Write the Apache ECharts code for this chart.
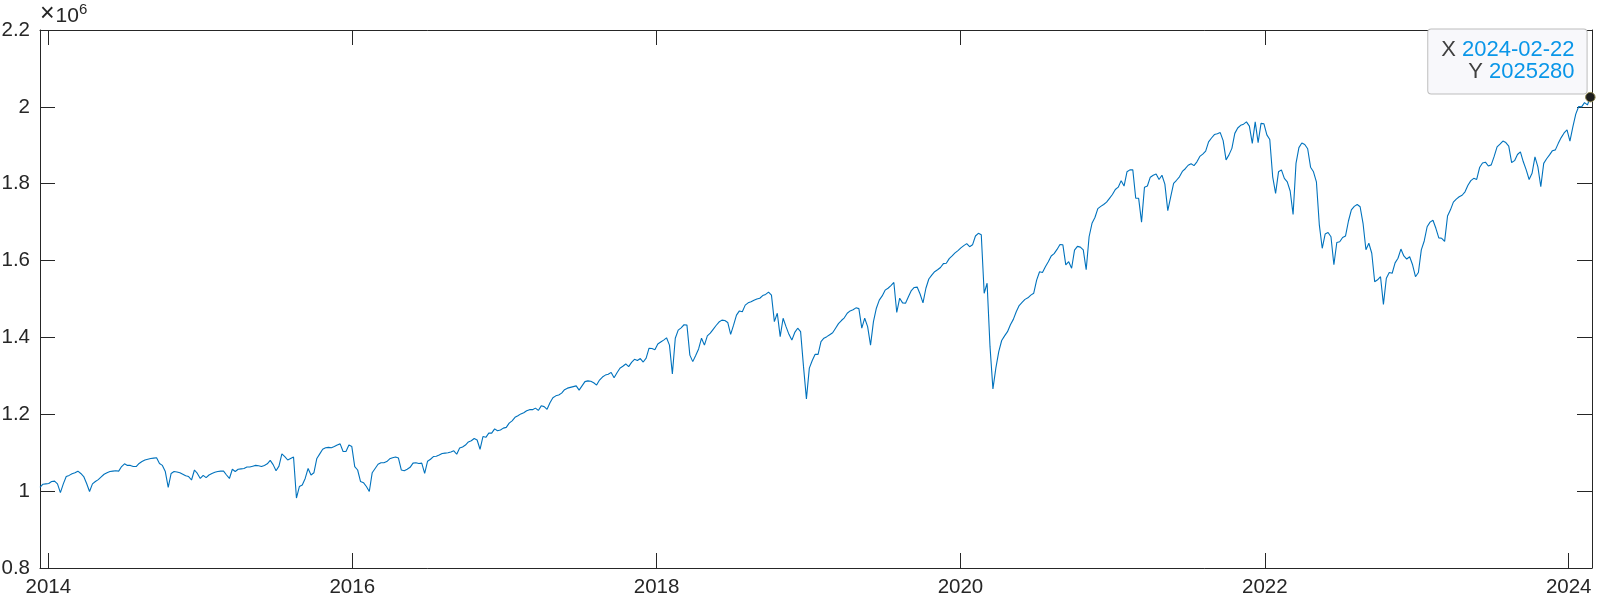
<!DOCTYPE html>
<html>
<head>
<meta charset="utf-8">
<script src="https://cdn.jsdelivr.net/npm/echarts@6/dist/echarts.min.js"></script>
<style>
html,body{margin:0;padding:0;background:#ffffff;}
#chart{width:1599px;height:597px;}
</style>
</head>
<body>
<div id="chart"></div>
<script>
// Weekly samples, first sample date (UTC) and step
const firstSample = '2013-12-12';
const stepDays = 7;

// Values in units of 1e6, period by period
const values2014 = [
  1.010, 1.018, 1.019, 1.020, 1.025, 1.026, 1.019, 0.996, 1.019, 1.038,
  1.041, 1.045, 1.048, 1.052, 1.046, 1.038, 1.020, 0.999, 1.019, 1.025,
  1.030, 1.037, 1.044, 1.048, 1.051, 1.052, 1.053, 1.052, 1.064, 1.071,
  1.067, 1.067, 1.064, 1.064, 1.072, 1.077, 1.081, 1.083, 1.085, 1.086,
  1.087, 1.072, 1.067, 1.051, 1.010, 1.046, 1.051, 1.050, 1.048, 1.044,
  1.040, 1.038, 1.029, 1.055, 1.046, 1.033, 1.041, 1.035, 1.042, 1.046,
  1.049, 1.051, 1.052, 1.052, 1.042, 1.033, 1.057, 1.051, 1.057
];
const values2015 = [
  1.058, 1.059, 1.063, 1.063, 1.065, 1.067, 1.066, 1.064, 1.067, 1.071,
  1.080, 1.069, 1.053, 1.065, 1.097, 1.090, 1.081, 1.085, 1.089, 0.982,
  1.012, 1.016, 1.033, 1.059, 1.042, 1.048, 1.085, 1.097, 1.109, 1.113,
  1.114, 1.113, 1.116, 1.120, 1.123, 1.103, 1.103, 1.120, 1.116, 1.064,
  1.055, 1.025, 1.022, 1.012, 0.999, 1.048, 1.059, 1.070, 1.074, 1.074,
  1.077, 1.084, 1.087, 1.089, 1.086, 1.055, 1.053, 1.057, 1.062, 1.073,
  1.074, 1.072, 1.073, 1.046, 1.078, 1.083, 1.090
];
const values2016 = [
  1.091, 1.094, 1.098, 1.099, 1.100, 1.102, 1.105, 1.096, 1.112, 1.115,
  1.120, 1.128, 1.131, 1.137, 1.133, 1.109, 1.142, 1.140, 1.151, 1.151,
  1.162, 1.157, 1.159, 1.164, 1.166, 1.177, 1.183, 1.192, 1.196, 1.201,
  1.204, 1.209, 1.212, 1.212, 1.216, 1.210, 1.222, 1.220, 1.213, 1.230,
  1.243, 1.248, 1.250, 1.255, 1.264, 1.268, 1.270, 1.272, 1.274, 1.263,
  1.274, 1.285, 1.287, 1.286, 1.282, 1.276, 1.289, 1.297, 1.302, 1.304,
  1.309, 1.295, 1.308, 1.320, 1.325, 1.331, 1.324, 1.335, 1.343
];
const values2018 = [
  1.340, 1.345, 1.336, 1.346, 1.372, 1.371, 1.368, 1.383, 1.388, 1.393,
  1.399, 1.380, 1.305, 1.398, 1.419, 1.425, 1.433, 1.432, 1.354, 1.337,
  1.353, 1.370, 1.398, 1.380, 1.404, 1.411, 1.421, 1.431, 1.440, 1.445,
  1.444, 1.439, 1.408, 1.432, 1.458, 1.469, 1.467, 1.484, 1.490, 1.493,
  1.497, 1.500, 1.502, 1.509, 1.512, 1.518, 1.510, 1.441, 1.463, 1.402,
  1.450, 1.428, 1.408, 1.393, 1.413, 1.424, 1.415, 1.324, 1.240, 1.320,
  1.340, 1.356, 1.356, 1.389, 1.398, 1.402, 1.407, 1.412, 1.424
];
const values2019 = [
  1.436, 1.444, 1.451, 1.463, 1.469, 1.472, 1.477, 1.475, 1.424, 1.450,
  1.428, 1.380, 1.441, 1.476, 1.497, 1.508, 1.523, 1.528, 1.535, 1.543,
  1.465, 1.502, 1.490, 1.489, 1.506, 1.522, 1.530, 1.531, 1.513, 1.490,
  1.528, 1.552, 1.562, 1.571, 1.576, 1.582, 1.592, 1.593, 1.605, 1.612,
  1.620, 1.626, 1.633, 1.639, 1.644, 1.636, 1.641, 1.664, 1.671, 1.667,
  1.515, 1.541, 1.376, 1.266, 1.320, 1.363, 1.392, 1.404, 1.415, 1.433,
  1.447, 1.467, 1.483, 1.491, 1.499, 1.503, 1.510, 1.515, 1.549
];
const values2020 = [
  1.571, 1.569, 1.584, 1.597, 1.612, 1.618, 1.629, 1.642, 1.641, 1.589,
  1.597, 1.580, 1.627, 1.637, 1.635, 1.628, 1.576, 1.662, 1.697, 1.712,
  1.735, 1.741, 1.746, 1.752, 1.762, 1.772, 1.785, 1.791, 1.808, 1.794,
  1.831, 1.836, 1.836, 1.762, 1.762, 1.700, 1.791, 1.794, 1.817, 1.822,
  1.825, 1.811, 1.822, 1.799, 1.730, 1.766, 1.801, 1.809, 1.818, 1.832,
  1.839, 1.848, 1.852, 1.847, 1.857, 1.871, 1.877, 1.885, 1.909, 1.919,
  1.928, 1.930, 1.933, 1.912, 1.862, 1.875, 1.892, 1.931
];
const values2021 = [
  1.945, 1.952, 1.955, 1.961, 1.950, 1.905, 1.961, 1.907, 1.957, 1.956,
  1.927, 1.915, 1.818, 1.775, 1.831, 1.836, 1.814, 1.805, 1.781, 1.720,
  1.853, 1.894, 1.906, 1.902, 1.891, 1.843, 1.831, 1.805, 1.693, 1.632,
  1.669, 1.673, 1.662, 1.589, 1.647, 1.649, 1.660, 1.664, 1.703, 1.732,
  1.741, 1.746, 1.740, 1.697, 1.628, 1.645, 1.619, 1.545, 1.550, 1.558,
  1.486, 1.554, 1.569, 1.567, 1.594, 1.606, 1.630, 1.612, 1.604, 1.610,
  1.589, 1.558, 1.569, 1.628, 1.651, 1.688, 1.700, 1.705, 1.684
];
const values2023 = [
  1.659, 1.658, 1.650, 1.716, 1.732, 1.752, 1.760, 1.766, 1.770, 1.779,
  1.796, 1.808, 1.814, 1.811, 1.842, 1.854, 1.856, 1.846, 1.849, 1.871,
  1.896, 1.903, 1.911, 1.907, 1.898, 1.855, 1.860, 1.876, 1.883, 1.857,
  1.836, 1.811, 1.827, 1.870, 1.844, 1.792, 1.853, 1.865, 1.875, 1.886,
  1.888, 1.905, 1.920, 1.932, 1.940, 1.911, 1.948, 1.981, 2.001, 2.000,
  2.011, 2.005, 2.02528
];

// Axis ticks and limits
const xTickYears = [2014, 2016, 2018, 2020, 2022, 2024];
const yTicks = [0.8, 1, 1.2, 1.4, 1.6, 1.8, 2, 2.2];
const xLimits = ['2013-12-12', '2024-02-26'];
const yScaleFactor = 1e6;
const yExponentSign = '\u00d7';
const yExponentBase = '10';
const yExponent = '6';

// ---- build ----
const DAY = 86400000;
const toTs = s => { const p = s.split('-').map(Number); return Date.UTC(p[0], p[1] - 1, p[2]); };
const allValues = [].concat(values2014, values2015, values2016, values2018, values2019, values2020, values2021, values2023);
const t0 = toTs(firstSample);
const seriesData = allValues.map((v, i) => [t0 + i * stepDays * DAY, v]);
const last = seriesData[seriesData.length - 1];
const lastDateStr = new Date(last[0]).toISOString().slice(0, 10);
const lastValStr = String(Math.round(last[1] * yScaleFactor));
const xTickTs = xTickYears.map(y => Date.UTC(y, 0, 1));

const FONT = '"Liberation Sans", Arial, Helvetica, sans-serif';
const AX = '#262626';
const LABEL_SIZE = 20.5;
const axisLine = { show: true, onZero: false, lineStyle: { color: AX, width: 1 } };
const tickX = { show: true, inside: true, length: 15, customValues: xTickTs, lineStyle: { color: AX, width: 1 } };
const tickY = { show: true, inside: true, length: 15, customValues: yTicks, lineStyle: { color: AX, width: 1 } };

const chart = echarts.init(document.getElementById('chart'), null, { renderer: 'canvas' });
chart.setOption({
  animation: false,
  backgroundColor: '#ffffff',
  grid: { left: 40, right: 7, top: 30, bottom: 29, containLabel: false, outerBoundsMode: 'none' },
  xAxis: [
    {
      type: 'value', position: 'bottom', min: toTs(xLimits[0]), max: toTs(xLimits[1]),
      axisLine: axisLine, axisTick: tickX, splitLine: { show: false },
      axisLabel: {
        customValues: xTickTs, margin: 9, color: AX, fontSize: LABEL_SIZE, fontFamily: FONT,
        formatter: v => String(new Date(v).getUTCFullYear())
      }
    },
    {
      type: 'value', position: 'top', min: toTs(xLimits[0]), max: toTs(xLimits[1]),
      axisLine: axisLine, axisTick: tickX, splitLine: { show: false }, axisLabel: { show: false }
    }
  ],
  yAxis: [
    {
      type: 'value', position: 'left', min: yTicks[0], max: yTicks[yTicks.length - 1],
      axisLine: axisLine, axisTick: tickY, splitLine: { show: false },
      axisLabel: { customValues: yTicks, margin: 10, color: AX, fontSize: LABEL_SIZE, fontFamily: FONT, formatter: v => String(v) },
      name: '{x|' + yExponentSign + '}{a|' + yExponentBase + '}{b|' + yExponent + '}',
      nameLocation: 'end', nameGap: 3,
      nameTextStyle: {
        align: 'left', verticalAlign: 'bottom', color: AX, fontFamily: FONT,
        rich: {
          x: { fontSize: 25, fontFamily: FONT, color: AX, lineHeight: 25, verticalAlign: 'bottom', padding: [0, 1, 0, 0] },
          a: { fontSize: 21, fontFamily: FONT, color: AX, lineHeight: 25, verticalAlign: 'bottom' },
          b: { fontSize: 15, fontFamily: FONT, color: AX, lineHeight: 25, verticalAlign: 'top' }
        }
      }
    },
    {
      type: 'value', position: 'right', min: yTicks[0], max: yTicks[yTicks.length - 1],
      axisLine: axisLine, axisTick: tickY, splitLine: { show: false }, axisLabel: { show: false }
    }
  ],
  series: [{
    type: 'line',
    data: seriesData,
    xAxisIndex: 0, yAxisIndex: 0,
    showSymbol: false,
    symbol: 'none',
    lineStyle: { color: '#0072BD', width: 1.1 },
    markPoint: {
      symbol: 'circle', symbolSize: 9.5,
      itemStyle: { color: '#1e1e1e', borderColor: '#8c8650', borderWidth: 1 },
      label: {
        show: true,
        position: [1.5, 1.5],
        align: 'right', verticalAlign: 'bottom',
        formatter: '{l|X }{v|' + lastDateStr + '}\n{l|Y }{v|' + lastValStr + '}',
        backgroundColor: '#f8f8fb',
        borderColor: '#bdbdbd', borderWidth: 1, borderRadius: 3,
        padding: [10, 12, 10, 13],
        rich: {
          l: { color: '#404040', fontSize: 22, fontFamily: FONT, lineHeight: 22 },
          v: { color: '#0a96e8', fontSize: 22, fontFamily: FONT, lineHeight: 22 }
        }
      },
      data: [{ coord: last }]
    }
  }]
});
</script>
</body>
</html>
